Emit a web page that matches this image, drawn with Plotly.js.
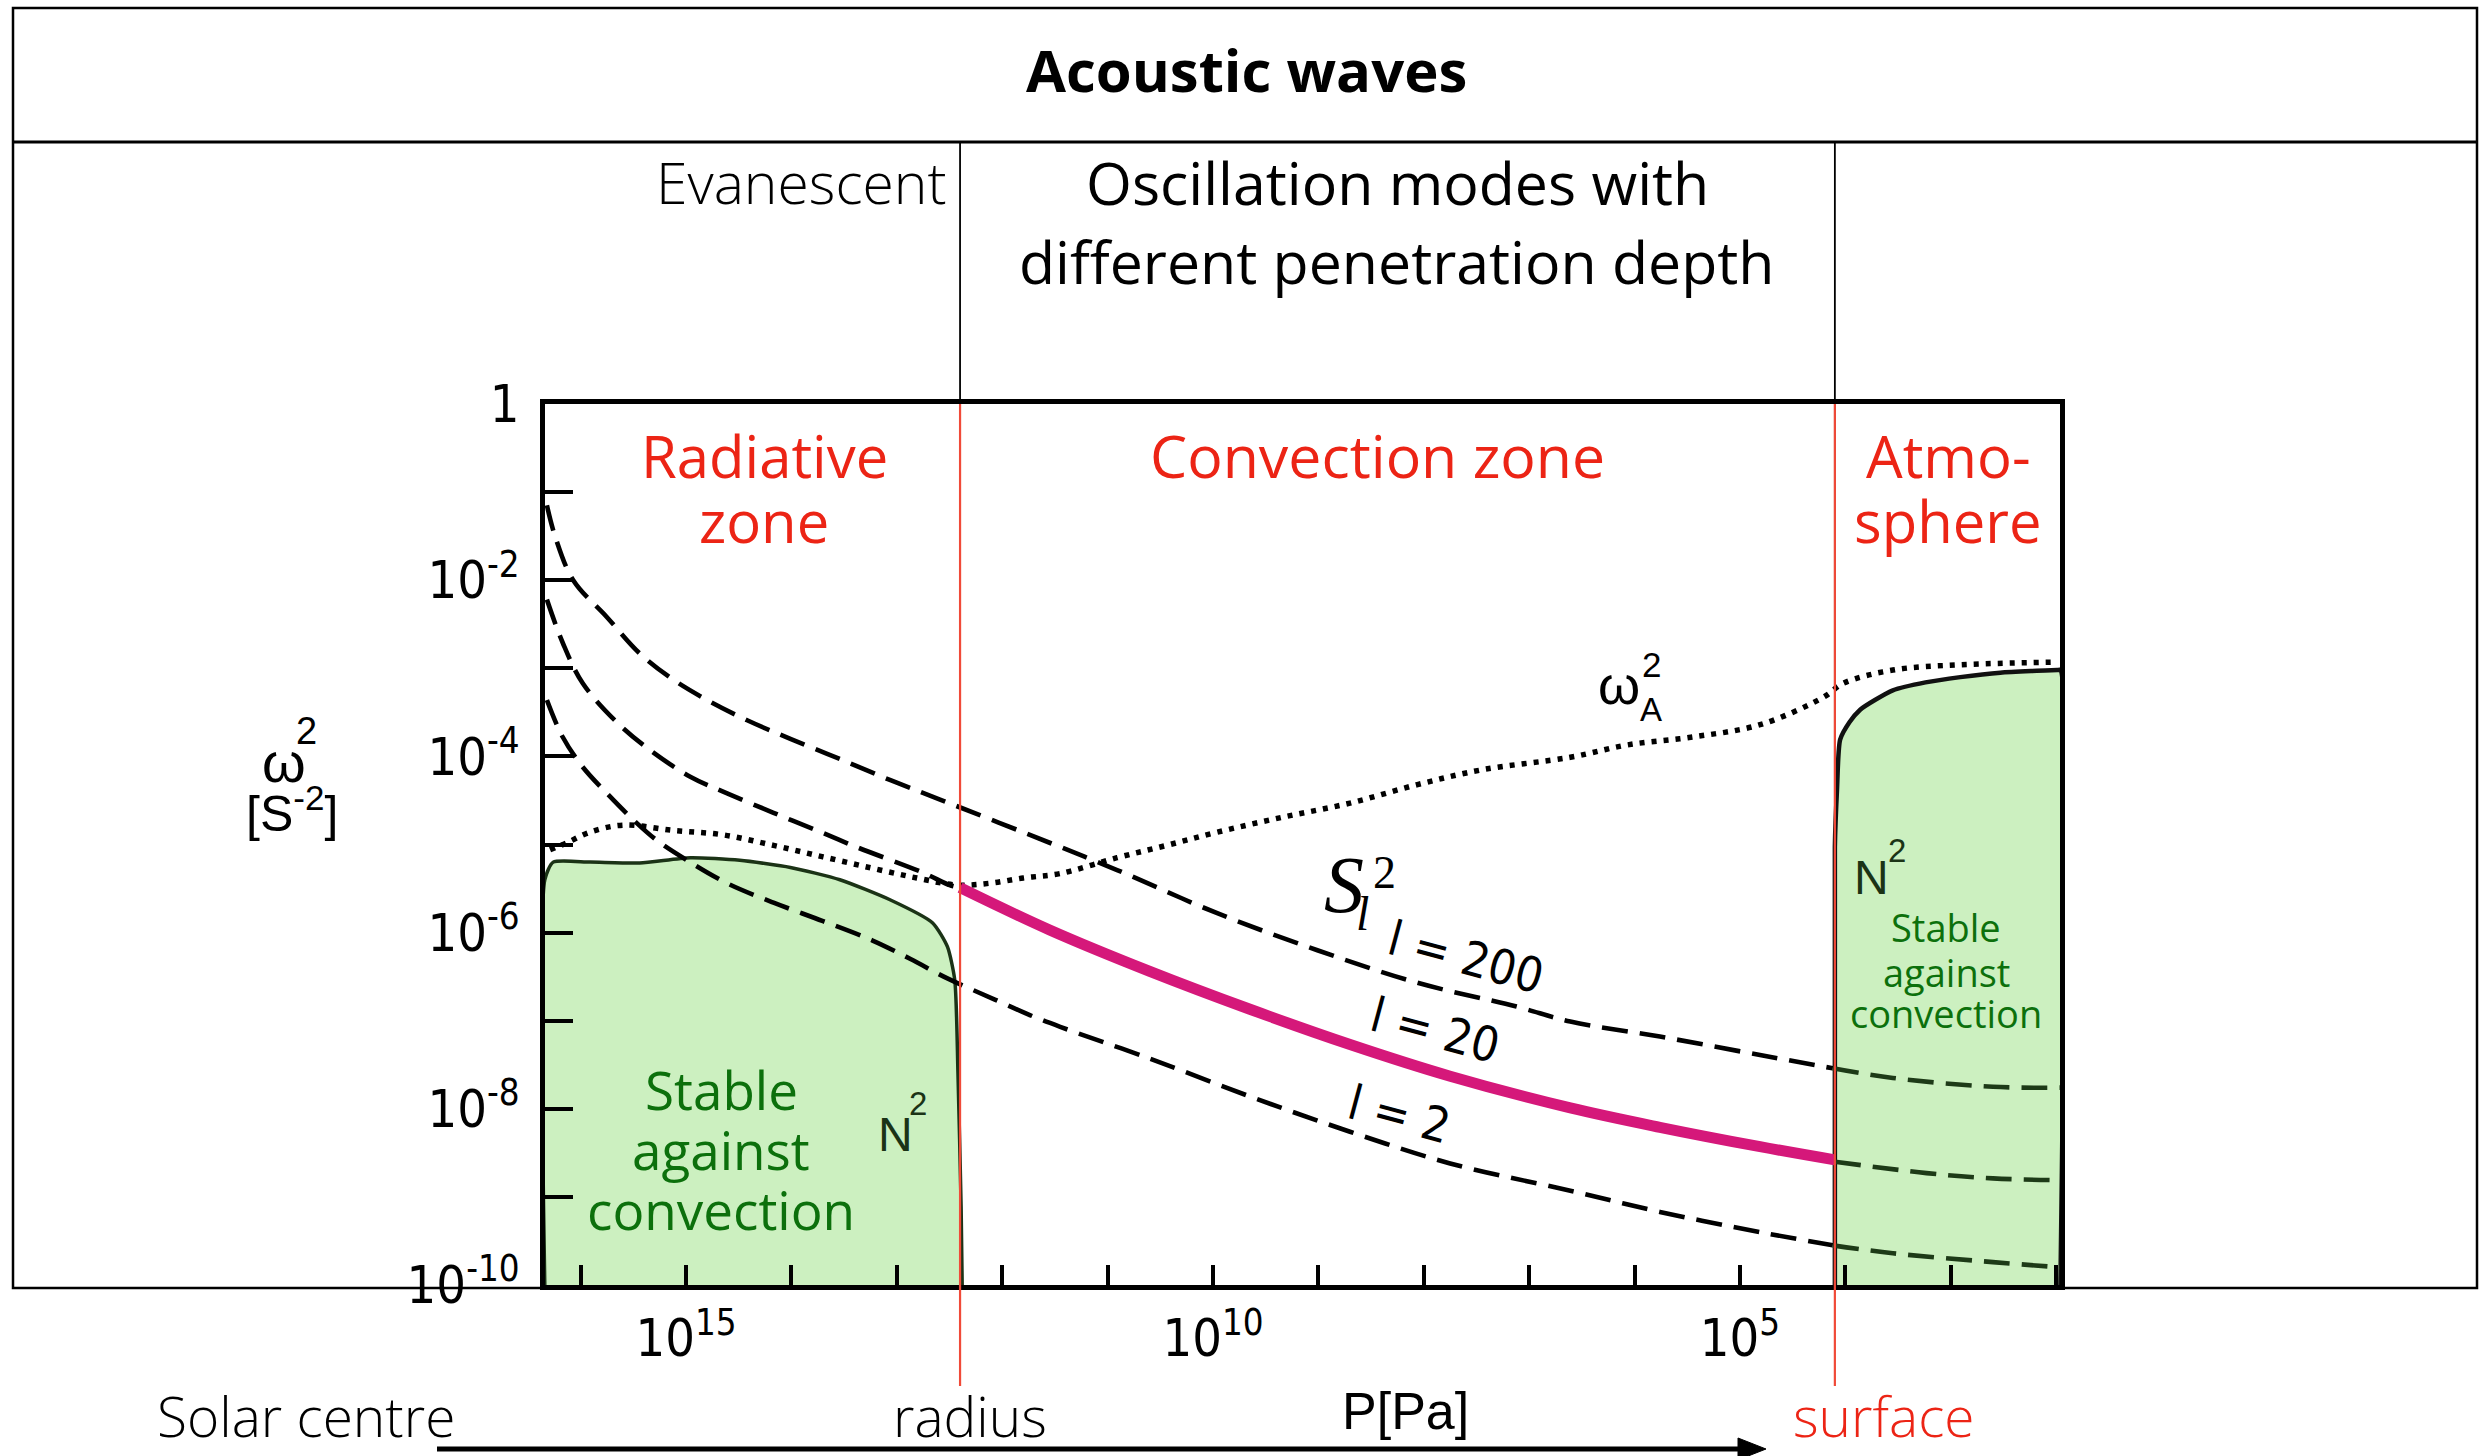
<!DOCTYPE html>
<html><head><meta charset="utf-8">
<script src="https://cdn.plot.ly/plotly-3.0.1.min.js"></script>
<style>html,body{margin:0;padding:0;background:#fff;}#chart{width:2490px;height:1456px;}</style>
</head><body><div id="chart"></div>
<script>
// ---- data: log10 P [Pa] and log10 omega^2 [s^-2] ----
const zoneBounds = [12.40, 4.10]; // log10 P: base of convection zone, surface

const l200_logP = [16.32,16.24,16.07,15.75,15.44,15.12,14.80,14.42,14.01,13.54,13.06,12.59,11.55,10.91,9.96,9.01,8.06,7.12,6.61,5.76,4.81,4.12,3.55,2.60,1.96];
const l200_logW = [-1.15,-1.51,-2.00,-2.42,-2.83,-3.13,-3.36,-3.59,-3.80,-4.03,-4.27,-4.49,-4.98,-5.29,-5.78,-6.20,-6.57,-6.84,-7.01,-7.18,-7.39,-7.54,-7.65,-7.75,-7.76];

const l20rad_logP = [16.32,16.17,15.98,15.65,15.34,14.96,14.61,14.17,13.70,13.38,12.75,12.50,12.40];
const l20rad_logW = [-2.22,-2.71,-3.17,-3.62,-3.93,-4.23,-4.42,-4.64,-4.87,-5.03,-5.32,-5.46,-5.49];
const l20conv_logP = [12.40,11.55,10.60,9.65,8.70,7.75,6.61,5.76,4.81,4.10];
const l20conv_logW = [-5.49,-5.97,-6.44,-6.87,-7.27,-7.63,-7.99,-8.21,-8.43,-8.58];
const l20atm_logP = [4.10,3.23,2.60,1.96];
const l20atm_logW = [-8.60,-8.73,-8.79,-8.81];

const l2_logP = [16.32,16.17,15.98,15.75,15.50,15.28,14.99,14.61,14.17,13.70,13.23,12.87,12.52,12.07,11.71,11.45,10.60,9.65,8.70,7.75,6.61,5.76,4.81,4.12,3.55,2.60,1.96];
const l2_logW = [-3.36,-3.78,-4.12,-4.42,-4.72,-4.95,-5.18,-5.44,-5.66,-5.87,-6.09,-6.30,-6.52,-6.76,-6.95,-7.07,-7.43,-7.86,-8.26,-8.62,-8.93,-9.17,-9.40,-9.55,-9.64,-9.74,-9.80];

const wA_logP = [16.29,16.13,15.91,15.60,15.12,14.65,14.17,13.70,13.23,12.81,12.43,12.12,11.80,11.45,10.91,10.44,9.96,9.34,8.70,8.06,7.44,6.61,6.07,5.45,4.81,4.21,4.02,3.55,2.91,1.99];
const wA_logW = [-5.06,-4.98,-4.86,-4.78,-4.84,-4.89,-5.01,-5.14,-5.27,-5.38,-5.46,-5.44,-5.38,-5.33,-5.15,-5.01,-4.86,-4.69,-4.53,-4.32,-4.15,-4.01,-3.87,-3.78,-3.64,-3.33,-3.17,-3.02,-2.96,-2.93];

const N2rad_logP = [16.34,16.34,16.26,15.91,15.44,14.96,14.49,14.01,13.54,13.06,12.66,12.52,12.45,12.42,12.39,12.38];
const N2rad_logW = [-10,-5.40,-5.20,-5.20,-5.21,-5.15,-5.18,-5.26,-5.40,-5.63,-5.89,-6.16,-6.54,-7.59,-9.11,-10];
const N2atm_logP = [4.10,4.10,4.08,4.05,3.96,3.86,3.72,3.55,3.24,2.91,2.53,1.99,1.96,1.96];
const N2atm_logW = [-10,-5.03,-4.38,-3.81,-3.61,-3.47,-3.36,-3.25,-3.16,-3.10,-3.05,-3.02,-3.02,-10];

const xTickExp = [16,15,14,13,12,11,10,9,8,7,6,5,4,3,2];
const xTickLabels = {15:'10<sup>15</sup>',10:'10<sup>10</sup>',5:'10<sup>5</sup>'};
const yTickExp = [0,-1,-2,-3,-4,-5,-6,-7,-8,-9,-10];
const yTickLabels = {0:'1','-2':'10<sup>-2</sup>','-4':'10<sup>-4</sup>','-6':'10<sup>-6</sup>','-8':'10<sup>-8</sup>','-10':'10<sup>-10</sup>'};

// ---- helpers ----
const pw = v => v.map(e => Math.pow(10, e));
const L=545, R=2060, T=404, B=1285;
const px = X => (X-L)/(R-L);
const py = Y => (B-Y)/(B-T);

const GREEN_FILL = '#ccf0c0', GREEN_EDGE = '#1b3316', RED = '#ec2415', TXTGREEN = '#0c700c', DASHGREEN = '#1d3a17';
const DASH = '26px,12px';

function line(lp, lw, color, width, dash, extra, smooth) {
  return Object.assign({type:'scatter', mode:'lines', x:pw(lp), y:pw(lw),
    line:{color:color, width:width, dash:dash||'solid', shape:'spline', smoothing:smooth||1.0},
    hoverinfo:'skip', showlegend:false}, extra||{});
}
// split a curve at the surface: inside the atmosphere it is drawn dark green
function part(lp, lw, keep) {
  const idx = lp.map((v,i)=>i).filter(i => keep(lp[i]));
  return [idx.map(i=>lp[i]), idx.map(i=>lw[i])];
}
const surf = 4.12;
const l200In = part(l200_logP, l200_logW, v => v >= surf);
const l200Atm = part(l200_logP, l200_logW, v => v <= surf);
const l2In = part(l2_logP, l2_logW, v => v >= surf);
const l2Atm = part(l2_logP, l2_logW, v => v <= surf);

const traces = [
  line(N2rad_logP, N2rad_logW, GREEN_EDGE, 3.5, 'solid', {fill:'toself', fillcolor:GREEN_FILL}, 0.6),
  line(N2atm_logP, N2atm_logW, '#111', 4.5, 'solid', {fill:'toself', fillcolor:GREEN_FILL}, 0.6),
  line(l200In[0], l200In[1], '#000', 4.6, DASH),
  line(l200Atm[0], l200Atm[1], DASHGREEN, 4.6, DASH),
  line(l20rad_logP, l20rad_logW, '#000', 4.6, DASH),
  line(l20atm_logP, l20atm_logW, DASHGREEN, 4.6, DASH),
  line(l2In[0], l2In[1], '#000', 4.6, DASH),
  line(l2Atm[0], l2Atm[1], DASHGREEN, 4.6, DASH),
  line(wA_logP, wA_logW, '#000', 5.5, '5px,7px'),
  line(l20conv_logP, l20conv_logW, '#d5187a', 11, 'solid')
];

const OS = 'Open Sans, Noto Sans, sans-serif';
const LS = 'Liberation Sans, Arial, sans-serif';
const NAR = 'DejaVu Sans Condensed, Liberation Sans Narrow, Liberation Sans, sans-serif';
const SERIF = 'Liberation Serif, DejaVu Serif, serif';
function ann(text, X, Y, size, color, family, opts) {
  return Object.assign({text:text, xref:'paper', yref:'paper', x:px(X), y:py(Y),
    xanchor:'center', yanchor:'middle', showarrow:false,
    font:{family:family||OS, size:size, color:color||'#000'}}, opts||{});
}
function light(size, color) { return {font:{family:OS, size:size, color:color, weight:300}}; }

const annotations = [
  ann('Acoustic waves', 1246, 69, 58, '#000', OS, {font:{family:OS,size:58,color:'#000',weight:700}}),
  ann('Evanescent', 948, 182, 57, '#000', OS, Object.assign({xanchor:'right'}, light(57,'#000'))),
  ann('Oscillation modes with', 1397, 182, 59),
  ann('different penetration depth', 1397, 261, 59),
  ann('Radiative', 764, 455, 58, RED),
  ann('zone', 764, 520, 58, RED),
  ann('Convection zone', 1377, 455, 59, RED),
  ann('Atmo-', 1948, 455, 58, RED),
  ann('sphere', 1948, 520, 58, RED),
  ann('Stable', 721, 1089, 53, TXTGREEN),
  ann('against', 721, 1149, 53, TXTGREEN),
  ann('convection', 721, 1209, 53, TXTGREEN),
  ann('Stable', 1946, 927, 38, TXTGREEN),
  ann('against', 1946, 972, 38, TXTGREEN),
  ann('convection', 1946, 1013, 38, TXTGREEN),
  ann('Solar centre', 306, 1455, 55, '#000', OS, Object.assign({yanchor:'bottom'}, light(55,'#000'))),
  ann('radius', 970, 1455, 55, '#000', OS, Object.assign({yanchor:'bottom'}, light(55,'#000'))),
  ann('surface', 1884, 1455, 55, RED, OS, Object.assign({yanchor:'bottom'}, light(55,RED))),
  ann('P[Pa]', 1405, 1411, 52, '#000', LS),
  ann('ω', 284, 762, 56, '#000', LS),
  ann('2', 306, 731, 38, '#000', LS),
  ann('[S<sup>-2</sup>]', 292, 810, 50, '#000', LS),
  ann('ω', 1619, 685, 54, '#000', LS),
  ann('2', 1651, 664, 35, '#000', LS),
  ann('A', 1651, 709, 33, '#000', LS),
  ann('N', 895, 1134, 48, GREEN_EDGE, LS),
  ann('2', 918, 1103, 33, GREEN_EDGE, LS),
  ann('N', 1871, 877, 48, GREEN_EDGE, LS),
  ann('2', 1897, 850, 33, GREEN_EDGE, LS),
  ann('<i>S</i>', 1344, 885, 80, '#000', SERIF),
  ann('2', 1384, 872, 46, '#000', SERIF),
  ann('<i>l</i>', 1362, 913, 48, '#000', SERIF),
  ann('l = 200', 1466, 957, 48, '#000', NAR, {textangle:15}),
  ann('l = 20', 1435, 1030, 48, '#000', NAR, {textangle:15}),
  ann('l = 2', 1399, 1114, 48, '#000', NAR, {textangle:15})
];

const shapes = [
  {type:'rect', xref:'paper', yref:'paper', x0:px(13), x1:px(2477), y0:py(8), y1:py(1288), line:{color:'#000', width:2.5}, layer:'below'},
  {type:'line', xref:'paper', yref:'paper', x0:px(13), x1:px(2477), y0:py(142), y1:py(142), line:{color:'#000', width:3}},
  {type:'line', xref:'x', yref:'paper', x0:Math.pow(10,zoneBounds[0]), x1:Math.pow(10,zoneBounds[0]), y0:py(142), y1:py(1288), line:{color:'#000', width:1.8}},
  {type:'line', xref:'x', yref:'paper', x0:Math.pow(10,zoneBounds[1]), x1:Math.pow(10,zoneBounds[1]), y0:py(142), y1:py(1288), line:{color:'#000', width:1.8}},
  {type:'line', xref:'x', yref:'paper', x0:Math.pow(10,zoneBounds[0]), x1:Math.pow(10,zoneBounds[0]), y0:py(404), y1:py(1386), line:{color:'#f04a38', width:2.2}},
  {type:'line', xref:'x', yref:'paper', x0:Math.pow(10,zoneBounds[1]), x1:Math.pow(10,zoneBounds[1]), y0:py(404), y1:py(1386), line:{color:'#f04a38', width:2.2}},
  {type:'line', xref:'paper', yref:'paper', x0:px(437), x1:px(1745), y0:py(1449), y1:py(1449), line:{color:'#000', width:5}},
  {type:'path', xref:'paper', yref:'paper', path:'M'+px(1738)+','+py(1438)+' L'+px(1766)+','+py(1449)+' L'+px(1738)+','+py(1460)+' Z', fillcolor:'#000', line:{color:'#000', width:1}}
];

const layout = {
  width:2490, height:1456,
  margin:{l:L, r:2490-R, t:T, b:1456-B, pad:0},
  paper_bgcolor:'#fff', plot_bgcolor:'#fff', showlegend:false,
  xaxis:{type:'log', range:[16.338, 1.964], tickmode:'array',
    tickvals:xTickExp.map(e=>Math.pow(10,e)), ticktext:xTickExp.map(e=>xTickLabels[e]||''),
    ticks:'inside', ticklen:20, tickwidth:4, tickcolor:'#000',
    showline:true, linewidth:5, linecolor:'#000', mirror:true,
    showgrid:false, zeroline:false, ticklabelstandoff:4,
    tickfont:{family:NAR, size:52, color:'#000'}},
  yaxis:{type:'log', range:[-10, 0], tickmode:'array',
    tickvals:yTickExp.map(e=>Math.pow(10,e)), ticktext:yTickExp.map(e=>yTickLabels[e]||''),
    ticks:'inside', ticklen:28, tickwidth:4, tickcolor:'#000',
    showline:true, linewidth:5, linecolor:'#000', mirror:true,
    showgrid:false, zeroline:false, ticklabelstandoff:10,
    tickfont:{family:NAR, size:52, color:'#000'}},
  shapes:shapes, annotations:annotations
};

Plotly.newPlot('chart', traces, layout, {staticPlot:true, displayModeBar:false});
</script></body></html>
